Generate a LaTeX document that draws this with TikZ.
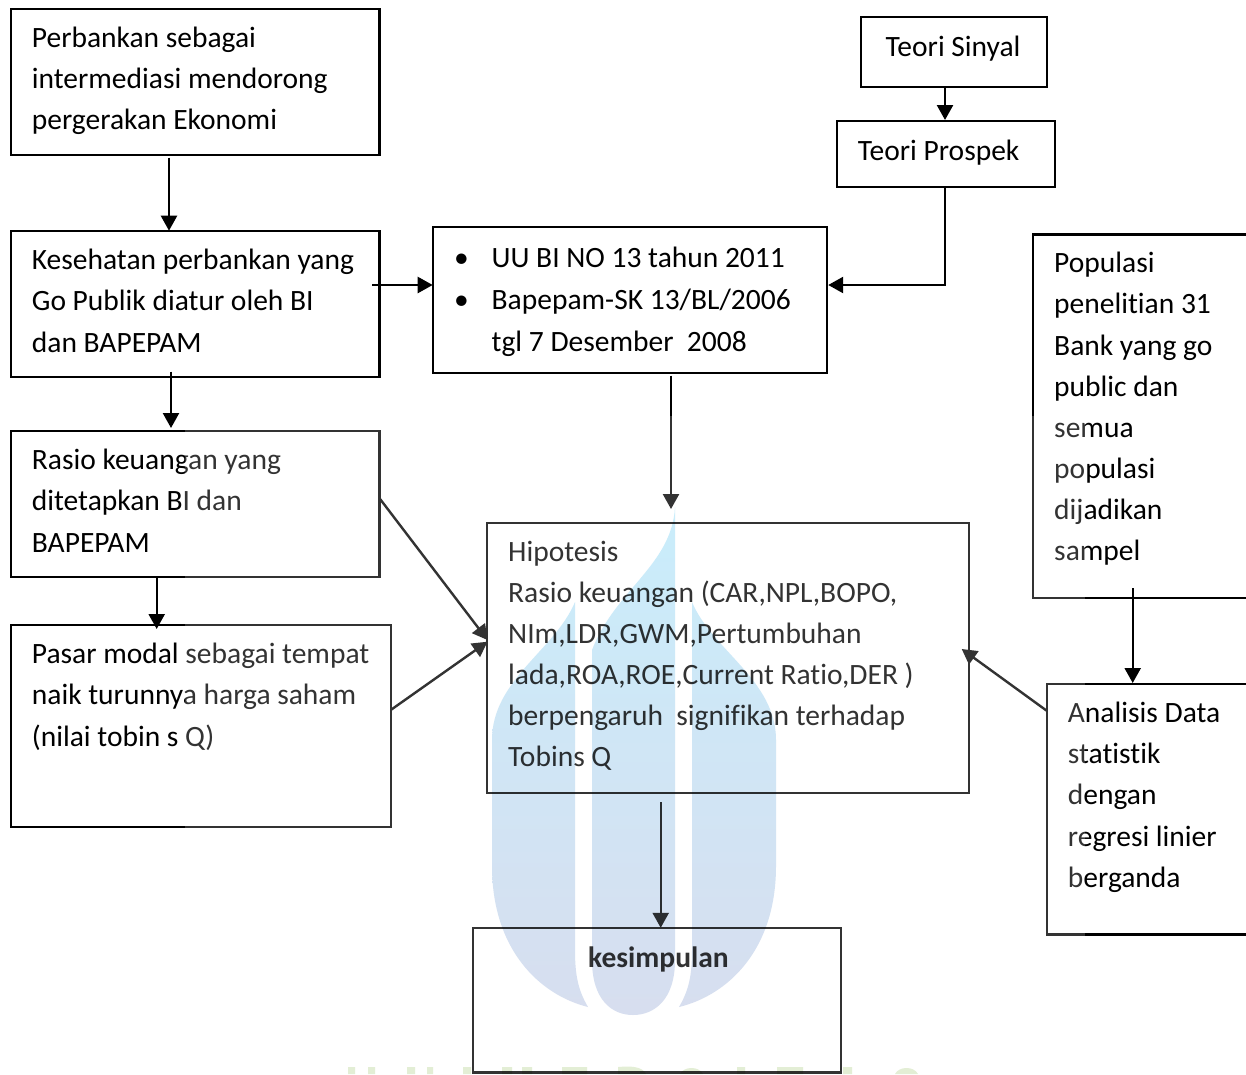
\documentclass[tikz,border=0pt]{standalone}
\usepackage{fontspec}
\setmainfont{Carlito}[Ligatures=NoCommon]
\usetikzlibrary{arrows.meta,calc}
\definecolor{wmtop}{HTML}{C9EDFB}
\definecolor{wmmid}{HTML}{CFE3F3}
\definecolor{wmbot}{HTML}{D7DEEF}
\definecolor{wmtxt}{HTML}{E3EED5}
\tikzset{
  flowbox/.style={draw=black,line width=2.4pt,inner sep=0pt,outer sep=0pt,anchor=north west,font=\fontsize{29.5}{41}\selectfont},
  link/.style={draw=black,line width=2.4pt,-{Triangle[length=15pt,width=16pt]}},
}
% name, x, y, w, h, inset, first baseline offset, line spacing, text
\newcommand{\bx}[9]{%
  \node[flowbox] (#1) at (#2,#3) {\parbox[c][#5pt][t]{#4pt}{%
    \raggedright\setlength{\leftskip}{\dimexpr#6pt+0.7pt\relax}\setlength{\parindent}{0pt}%
    \baselineskip=#8pt\lineskiplimit=-100pt\rule{0pt}{\dimexpr#7pt+1pt\relax}#9}};}
\newcommand{\blt}{\leavevmode\llap{\textbullet\hspace{23pt}}}
\begin{document}
\begin{tikzpicture}[x=1pt,y=-1pt]
\useasboundingbox (0,0) rectangle (1246,1074);
\clip (0,0) rectangle (1246,1074);
\fill[white] (0,0) rectangle (1246,1074);

\bx{perbankan}{10.7}{9}{368.6}{145.7}{20.5}{37}{41.4}{Perbankan sebagai\\intermediasi mendorong\\pergerakan Ekonomi}
\bx{kesehatan}{10.7}{230.7}{368.6}{146}{20.5}{37.8}{41.4}{Kesehatan perbankan yang\\Go Publik diatur oleh BI\\dan BAPEPAM}
\bx{rasio}{10.7}{431}{368.6}{145.7}{20.5}{37.3}{41.4}{Rasio keuangan yang\\ditetapkan BI dan\\BAPEPAM}
\bx{pasar}{10.7}{625}{380}{201.7}{20.5}{37.7}{41.2}{Pasar modal sebagai tempat\\naik turunnya harga saham\\(nilai tobin s Q)}
\bx{uu}{432.7}{226.7}{394}{146}{58.3}{40}{41.7}{\blt UU BI NO 13 tahun 2011\\\blt Bapepam-SK 13/BL/2006\\tgl 7 Desember\ \ 2008}
\bx{sinyal}{861}{16.7}{186}{70}{24}{38.3}{41}{Teori Sinyal}
\bx{prospek}{836.7}{121}{218.3}{65.7}{20.5}{38.3}{41}{Teori Prospek}
\bx{populasi}{1033}{234.3}{240}{363.7}{20.5}{37.4}{41.15}{Populasi\\penelitian 31\\Bank yang go\\public dan\\semua\\populasi\\dijadikan\\sampel}
\bx{analisis}{1046.7}{684}{240}{250.6}{20.5}{37.4}{41.2}{Analisis Data\\statistik\\dengan\\regresi linier\\berganda}
\bx{hipotesis}{487}{523}{481.7}{270}{20.5}{37.4}{41.1}{Hipotesis\\Rasio keuangan (CAR,NPL,BOPO,\\NIm,LDR,GWM,Pertumbuhan\\lada,ROA,ROE,Current Ratio,DER )\\berpengaruh\ \ signifikan terhadap\\Tobins Q}
\bx{kesimpulan}{473}{927.8}{368}{144.7}{114.5}{39}{41}{\textbf{kesimpulan}}

\draw[link] ([xshift=158.3pt,yshift=-3pt]perbankan.south west) -- ([xshift=158.3pt]kesehatan.north west);
\draw[link] ([xshift=160.3pt,yshift=5pt]kesehatan.south west) -- ([xshift=160.3pt,yshift=3pt]rasio.north west);
\draw[link] ([xshift=146pt]rasio.south west) -- ([xshift=146pt,yshift=-4pt]pasar.north west);
\draw[link] ([xshift=-7pt,yshift=-54.3pt]kesehatan.north east) -- ([yshift=-58.3pt]uu.north west);
\draw[link] ([xshift=84pt]sinyal.south west) -- ([xshift=108.3pt,yshift=1pt]prospek.north west);
\draw[link] ([xshift=108.3pt]prospek.south west) |- ([xshift=1.5pt,yshift=-58.3pt]uu.north east);
\draw[link] ([xshift=238.3pt,yshift=-3pt]uu.south west) -- ([xshift=184pt,yshift=14pt]hipotesis.north west);
\draw[link] ([yshift=-67pt]rasio.north east) -- ([xshift=0.5pt,yshift=-117pt]hipotesis.north west);
\draw[link] ([yshift=-85pt]pasar.north east) -- ([xshift=0.5pt,yshift=-118.7pt]hipotesis.north west);
\draw[link] ([yshift=-26.7pt]analisis.north west) -- ([xshift=-7pt,yshift=-126pt]hipotesis.north east);
\draw[link] ([xshift=99.7pt,yshift=10pt]populasi.south west) -- ([xshift=86pt,yshift=1pt]analisis.north west);
\draw[link] ([xshift=173.7pt,yshift=-9pt]hipotesis.south west) -- ([xshift=187.7pt]kesimpulan.north west);

% the faded part of the page
\fill[white,opacity=0.2] (185,416) rectangle (1085,1074);
% watermark
\begin{scope}[blend mode=multiply]
\shade[top color=wmtop,middle color=wmmid,bottom color=wmbot]
  (675,507) .. controls (672,565) and (615,590) .. (592,650) -- (592,960)
    .. controls (592,1000) and (612,1015) .. (633,1015)
    .. controls (654,1015) and (675,1000) .. (675,960) -- cycle
  (575,602) .. controls (555,650) and (492,680) .. (492,740) -- (492,866)
    .. controls (492,950) and (540,995) .. (588,1007)
    .. controls (578,990) and (575,975) .. (575,950) -- cycle
  (692,602) .. controls (712,650) and (776,680) .. (776,740) -- (776,866)
    .. controls (776,950) and (728,995) .. (679,1007)
    .. controls (689,990) and (692,975) .. (692,950) -- cycle;
% tops of the cut-off letters at the lower edge
\fill[wmtxt]
  (348,1067) rectangle (355,1074) (368,1067) rectangle (375,1074)
  (407,1067) rectangle (415,1074) (427,1067) rectangle (433,1074)
  (463,1067) rectangle (471,1074)
  (502,1067) rectangle (512,1074) (522,1067) rectangle (532,1074)
  (562,1067) rectangle (587,1074)
  (618,1067) .. controls (630,1066) and (642,1066) .. (646,1074) -- (618,1074) -- cycle
  (680,1074) .. controls (684,1066) and (699,1066) .. (703,1074) -- cycle
  (737,1067) rectangle (745,1074)
  (777,1067) rectangle (803,1074)
  (843,1067) rectangle (852,1074)
  (895,1074) .. controls (899,1066) and (914,1066) .. (918,1074) -- cycle;
\end{scope}
\end{tikzpicture}
\end{document}
